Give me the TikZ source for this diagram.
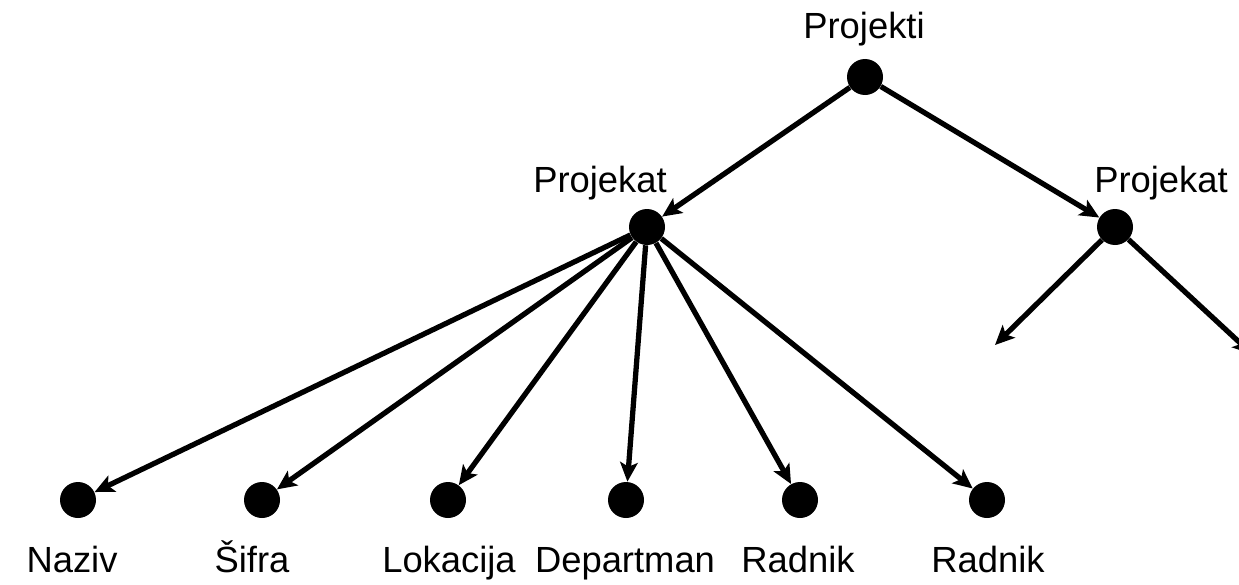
\documentclass[tikz,border=0pt]{standalone}
\usepackage{fontspec}
\setmainfont{Liberation Sans}
\usetikzlibrary{arrows.meta}

\begin{document}
\begin{tikzpicture}
        \tikzstyle{every node}=[font=\fontsize{20.7}{24}\selectfont]
        \tikzstyle{dot}=[circle, fill=black, minimum size=0.72cm, inner sep=0pt]
        \tikzstyle{lbl}=[anchor=base, inner sep=0pt]
        \tikzstyle{link}=[-{Stealth[length=11pt, width=10pt, inset=2.5pt]}, line width=3pt]

        \useasboundingbox (0,0) rectangle (24.78,11.68);

        % top levels
        \node   (root)  [dot] at (17.30,10.14) {};
        \node   (projL) [dot] at (12.94,7.14)  {};
        \node   (projR) [dot] at (22.30,7.14)  {};

        % attributes
        \node   (naziv)     [dot] at (1.56,1.68)  {};
        \node   (sifra)     [dot] at (5.24,1.68)  {};
        \node   (lokacija)  [dot] at (8.96,1.68)  {};
        \node   (departman) [dot] at (12.52,1.68) {};
        \node   (radnik1)   [dot] at (16.00,1.68) {};
        \node   (radnik2)   [dot] at (19.74,1.68) {};

        \coordinate (endL) at (19.90,4.78);
        \coordinate (endR) at (25.04,4.60);

        % texts
        \node   (tRoot)  [lbl] at (17.28,10.90) {Projekti};
        \node   (tProjL) [lbl] at (12.00,7.84)  {Projekat};
        \node   (tProjR) [lbl] at (23.22,7.84)  {Projekat};
        \node   (tNaziv)     [lbl] at (1.44,0.24)  {Naziv};
        \node   (tSifra)     [lbl] at (5.04,0.24)  {Šifra};
        \node   (tLokacija)  [lbl] at (8.98,0.24)  {Lokacija};
        \node   (tDepartman) [lbl] at (12.50,0.24) {Departman};
        \node   (tRadnik1)   [lbl] at (15.96,0.24) {Radnik};
        \node   (tRadnik2)   [lbl] at (19.76,0.24) {Radnik};

        \draw[link] (root) -- (projL);
        \draw[link] (root) -- (projR);
        \foreach \t in {naziv, sifra, lokacija, departman, radnik1, radnik2}
            \draw[link] (projL) -- (\t);
        \draw[link] (projR) -- (endL);
        \draw[link] (projR) -- (endR);

    \end{tikzpicture}
\end{document}
